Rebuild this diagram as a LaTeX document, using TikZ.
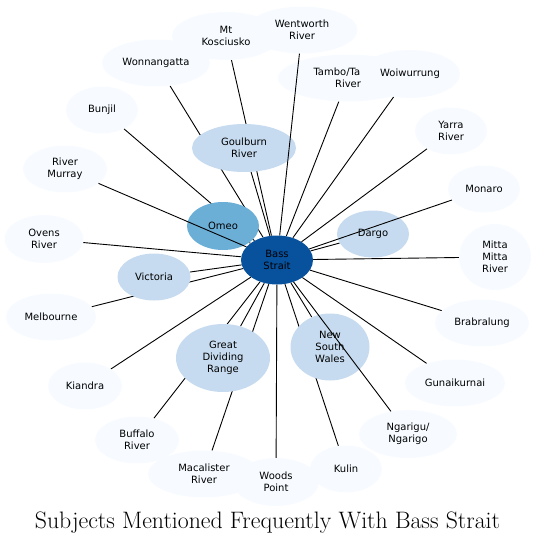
\documentclass[tikz,border=0pt]{standalone}
\usepackage{fontspec}
\newfontfamily\topicfont{DejaVu Sans}
\usetikzlibrary{shapes.geometric,backgrounds}
\definecolor{palest}{HTML}{F7FBFF}
\definecolor{pale}{HTML}{C6DBEF}
\definecolor{mid}{HTML}{6BAED6}
\definecolor{deep}{HTML}{08519C}
\begin{document}
\begin{tikzpicture}[x=1pt, y=-1pt,
  topic/.style={ellipse, fill=palest, inner sep=0pt, minimum width=72pt, minimum height=47pt, align=center, font=\topicfont\fontsize{10}{12}\selectfont},
  link/.style={line width=0.9pt}
]
  \useasboundingbox (0,0) rectangle (537,543);

  \node[topic, fill=deep, minimum height=49pt] (bass) at (277,260) {Bass\\Strait};
  \node[topic, minimum width=108pt, minimum height=48pt] (kosciusko) at (226,36) {Mt\\Kosciusko};
  \node[topic, minimum width=111pt] (wentworth) at (302,30) {Wentworth\\River};
  \node[topic, minimum width=108pt] (wonnangatta) at (156,63) {Wonnangatta};
  \node[topic, minimum width=140pt] (tambo) at (348,78) {Tambo/Ta\phantom{mbo}\\River};
  \node[topic, minimum width=100pt, minimum height=48pt] (woiwurrung) at (410,74) {Woiwurrung};
  \node[topic] (bunjil) at (102,110) {Bunjil};
  \node[topic, fill=pale, minimum width=104pt, minimum height=48pt] (goulburn) at (244,148) {Goulburn\\River};
  \node[topic] (yarra) at (451,131) {Yarra\\River};
  \node[topic, minimum width=84pt] (murray) at (65,169) {River\\Murray};
  \node[topic] (monaro) at (484,189) {Monaro};
  \node[topic, fill=mid, minimum height=48pt] (omeo) at (223,226) {Omeo};
  \node[topic, fill=pale] (dargo) at (373,234) {Dargo};
  \node[topic, minimum width=79pt, minimum height=48pt] (ovens) at (44,239) {Ovens\\River};
  \node[topic, minimum height=66pt] (mitta) at (495,257) {Mitta\\Mitta\\River};
  \node[topic, fill=pale, minimum width=73pt] (victoria) at (154,277) {Victoria};
  \node[topic, minimum width=90pt] (melbourne) at (51,317) {Melbourne};
  \node[topic, minimum width=94pt] (brabralung) at (482,323) {Brabralung};
  \node[topic, fill=pale, minimum width=94pt, minimum height=68pt] (dividing) at (223,358) {Great\\Dividing\\Range};
  \node[topic, fill=pale, minimum width=79pt, minimum height=67pt] (nsw) at (330,347) {New\\South\\Wales};
  \node[topic, minimum width=74pt] (kiandra) at (85,386) {Kiandra};
  \node[topic, minimum width=100pt] (gunaikurnai) at (455,383) {Gunaikurnai};
  \node[topic, minimum width=98pt, minimum height=48pt] (ngarigu) at (408,434) {Ngarigu/\\Ngarigo};
  \node[topic, minimum width=84pt] (buffalo) at (137,440) {Buffalo\\River};
  \node[topic, minimum width=112pt] (macalister) at (204,474) {Macalister\\River};
  \node[topic] (kulin) at (346,469) {Kulin};
  \node[topic, minimum width=86pt, minimum height=48pt] (woods) at (276,482) {Woods\\Point};

  \begin{scope}[on background layer]
    \draw[link] (bass) -- (kosciusko);
    \draw[link] (bass) -- (wonnangatta);
    \draw[link] (bass) -- (tambo);
    \draw[link] (bass) -- (woiwurrung);
    \draw[link] (bass) -- (bunjil);
    \draw[link] (bass) -- (goulburn);
    \draw[link] (bass) -- (yarra);
    \draw[link] (bass) -- (omeo);
    \draw[link] (bass) -- (dargo);
    \draw[link] (bass) -- (ovens);
    \draw[link] (bass) -- (mitta);
    \draw[link] (bass) -- (victoria);
    \draw[link] (bass) -- (melbourne);
    \draw[link] (bass) -- (brabralung);
    \draw[link] (bass) -- (dividing);
    \draw[link] (bass) -- (nsw);
    \draw[link] (bass) -- (kiandra);
    \draw[link] (bass) -- (gunaikurnai);
    \draw[link] (bass) -- (buffalo);
    \draw[link] (bass) -- (macalister);
    \draw[link] (bass) -- (kulin);
    \draw[link] (bass) -- (woods);
  \end{scope}
  \draw[link] (bass) -- (wentworth);
  \draw[link] (bass) -- (murray);
  \draw[link] (bass) -- (monaro);
  \draw[link] (bass) -- (ngarigu);

  \node[font=\fontsize{23.8}{27}\selectfont, anchor=base] (title) at (267.5,528) {Subjects Mentioned Frequently With Bass Strait};
\end{tikzpicture}
\end{document}
